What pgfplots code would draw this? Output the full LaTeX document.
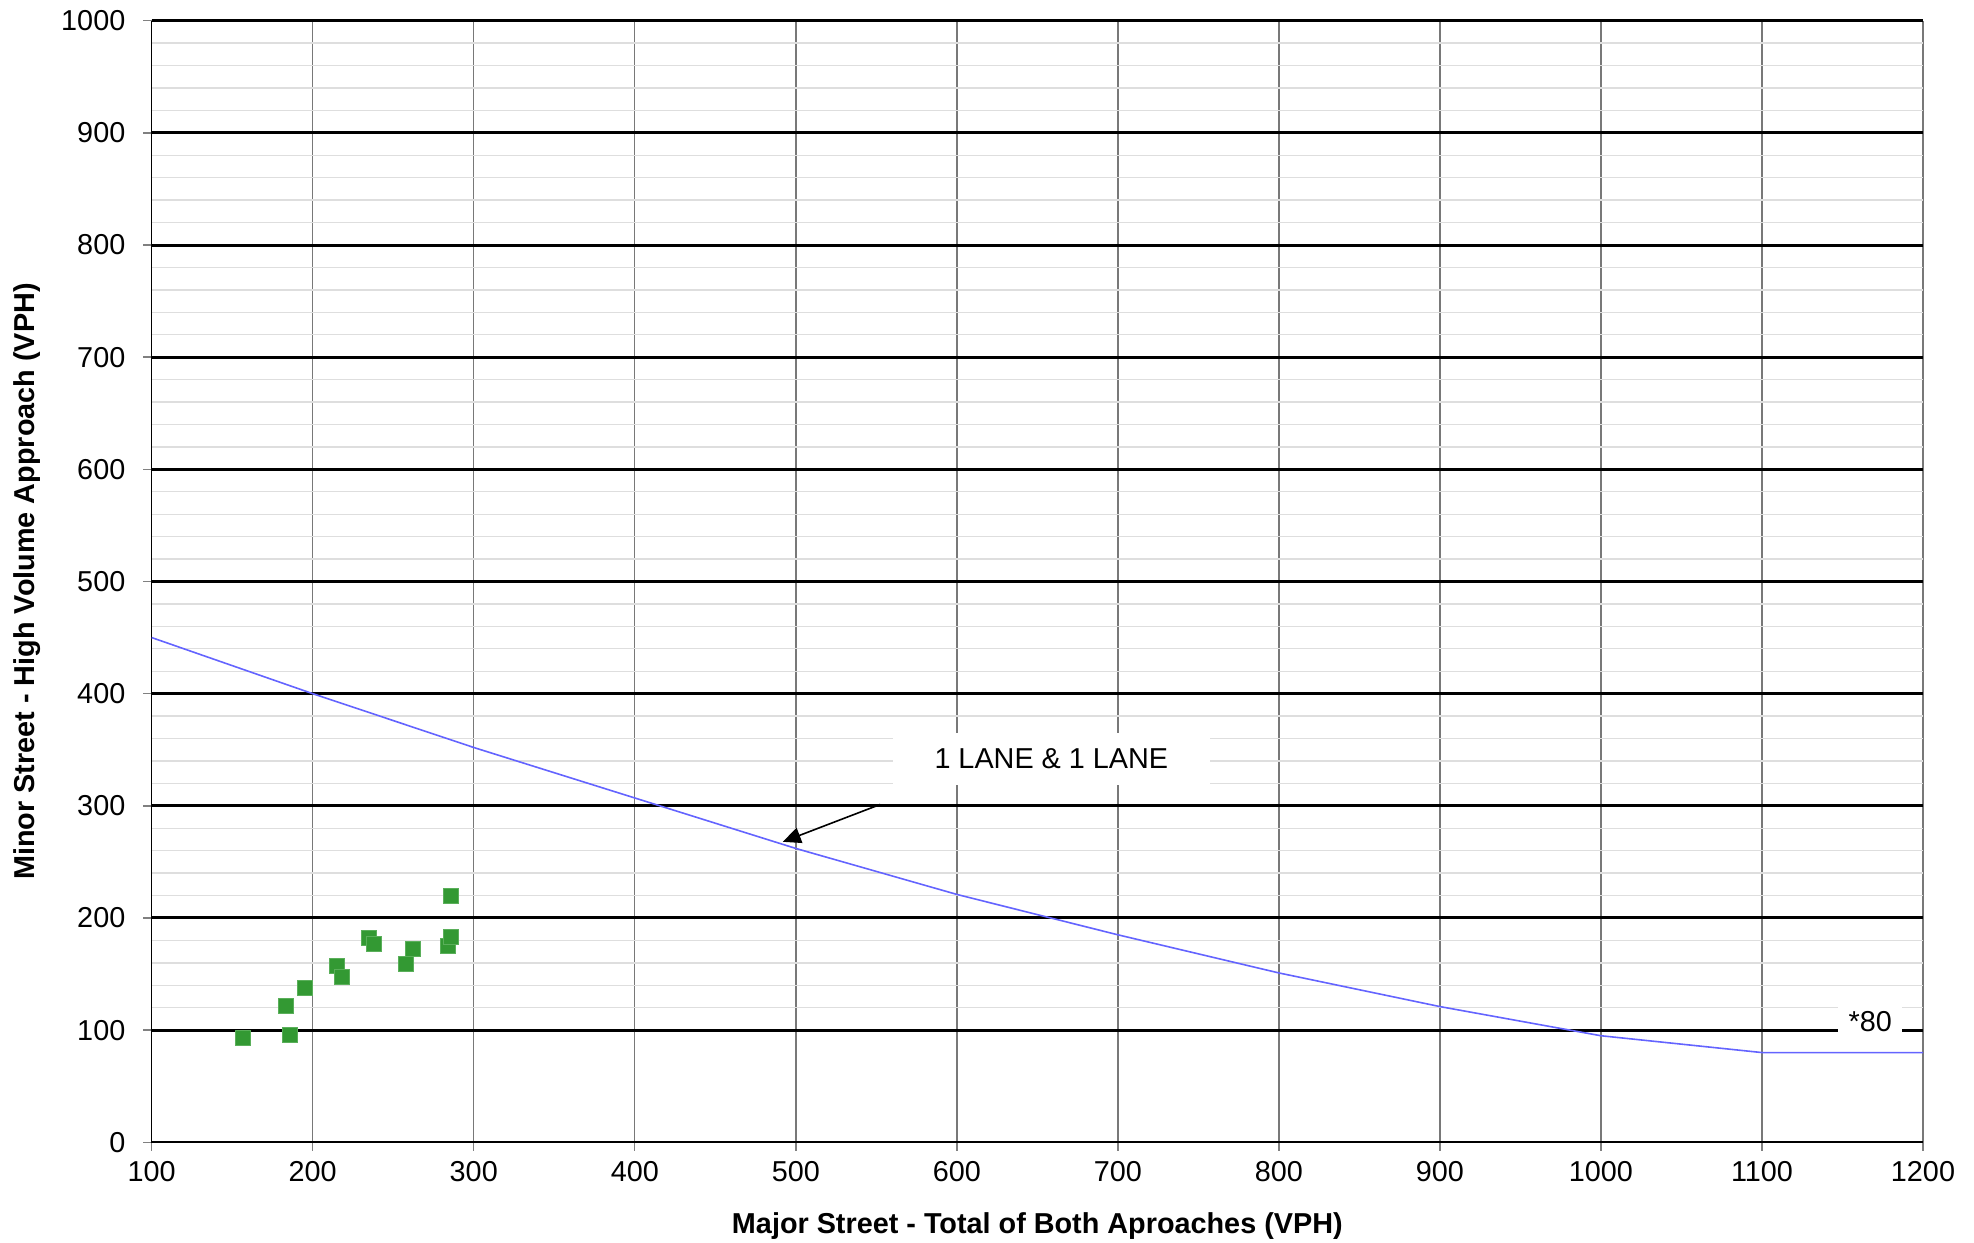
\documentclass[border=0pt]{standalone}
\usepackage{pgfplots}
\pgfplotsset{compat=1.18}
\usepackage{fontspec}
\setmainfont{Liberation Sans}
\usetikzlibrary{arrows.meta}
\definecolor{ptgreen}{RGB}{51,153,51}
\definecolor{ptgreenedge}{RGB}{90,175,90}
\definecolor{lineblue}{RGB}{100,100,255}
\definecolor{minorgrid}{RGB}{222,222,222}
\definecolor{majorx}{RGB}{120,120,120}
\begin{document}
\begin{tikzpicture}
\begin{axis}[
  at={(0,0)}, anchor=south west,
  scale only axis,
  width=442.825pt, height=280.4pt,
  xmin=100, xmax=1200, ymin=0, ymax=1000,
  xtick={100,200,...,1200},
  ytick={100,200,...,1000},
  extra y ticks={0},
  extra y tick style={grid=none},
  minor y tick num=4,
  minor tick length=0pt,
  xmajorgrids, ymajorgrids, yminorgrids,
  x grid style={majorx, line width=0.35pt},
  y grid style={black, line width=0.75pt},
  minor y grid style={minorgrid, line width=0.35pt},
  axis line style={draw=none},
  tick align=outside,
  major tick length=2.1pt,
  every tick/.style={gray, line width=0.35pt},
  xtick pos=bottom, ytick pos=left,
  font=\fontsize{7.2}{8.6}\selectfont,
  /pgf/number format/assume math mode=true,
  /pgf/number format/1000 sep={},
  xticklabel style={anchor=center, inner sep=0pt},
  xticklabel shift=5.1pt,
  yticklabel style={anchor=east, inner sep=0pt},
  yticklabel shift=4.3pt,
  xlabel={\bfseries Major Street - Total of Both Aproaches (VPH)},
  ylabel={\bfseries Minor Street - High Volume Approach (VPH)},
  every axis x label/.style={at={([yshift=-20.9pt]axis description cs:0.5,0)}, anchor=center},
  every axis y label/.style={at={([xshift=-31.1pt]axis description cs:0,0.5)}, rotate=90, anchor=center},
  clip=false,
]
\draw[black, line width=0.4pt] (rel axis cs:0,1) -- (rel axis cs:0,0) -- (rel axis cs:1,0);
\addplot[lineblue, line width=0.4pt] coordinates {
 (100,450) (200,400) (300,352) (400,307) (500,262) (600,221) (700,185)
 (800,151) (900,121) (1000,95) (1100,80) (1200,80)
};
\addplot[only marks, mark=square*, mark size=1.875pt,
  mark options={fill=ptgreen, draw=ptgreenedge, line width=0.2pt}] coordinates {
 (156.9,93.2) (185.9,95.9) (183.6,121.7) (195.0,138.1) (215.1,157.1)
 (218.4,147.1) (235.0,182.1) (237.9,176.7) (257.8,159.2) (261.9,172.0)
 (284.0,175.2) (285.9,182.7) (285.9,219.8)
};
\node[fill=white, minimum width=79.25pt, minimum height=13pt, inner sep=0pt]
  at (axis cs:658.7,341.6) {1 LANE \& 1 LANE};
\draw[-{Triangle[length=4.5pt,width=4pt]}, line width=0.4pt]
  (axis cs:552.4,301.2) -- (axis cs:491.9,267.9);
\node[fill=white, minimum width=16pt, minimum height=10.5pt, inner sep=0pt]
  at (axis cs:1167.3,108) {*80};
\end{axis}
\pgfresetboundingbox
\path (-37.925pt,-25.175pt) rectangle (455.575pt,285.575pt);
\end{tikzpicture}
\end{document}
